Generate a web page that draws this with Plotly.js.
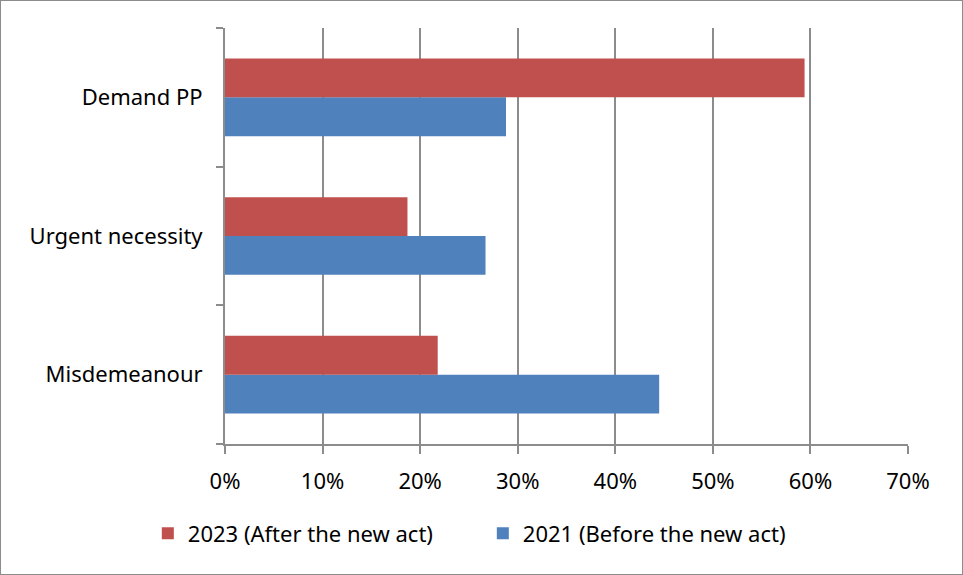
<!DOCTYPE html>
<html>
<head>
<meta charset="utf-8">
<script src="https://cdn.plot.ly/plotly-3.0.1.min.js"></script>
<style>
html,body{margin:0;padding:0;background:#fff;}
#wrap{width:961px;height:573px;border:1px solid #8c8c8c;overflow:hidden;}
#chart{width:961px;height:573px;}
</style>
</head>
<body>
<div id="wrap"><div id="chart"></div></div>
<script>
const categories = ['Misdemeanour', 'Urgent necessity', 'Demand PP'];
const values2021 = [0.445, 0.267, 0.288];
const values2023 = [0.218, 0.187, 0.594];
const seriesNames = ['2021 (Before the new act)', '2023 (After the new act)'];
const xTicks = [0, 0.1, 0.2, 0.3, 0.4, 0.5, 0.6, 0.7];

const fontFam = 'Noto Sans, Open Sans, sans-serif';

const traces = [
  {type: 'bar', orientation: 'h', name: seriesNames[0], y: categories, x: values2021,
   marker: {color: '#4F81BD'}, hoverinfo: 'x+y'},
  {type: 'bar', orientation: 'h', name: seriesNames[1], y: categories, x: values2023,
   marker: {color: '#C0504D'}, hoverinfo: 'x+y'}
];

const layout = {
  width: 961, height: 573,
  margin: {l: 224, r: 54, t: 27, b: 130},
  paper_bgcolor: '#ffffff', plot_bgcolor: '#ffffff',
  font: {family: fontFam, size: 22, color: '#000'},
  barmode: 'group',
  bargap: 0.44,
  bargroupgap: 0,
  showlegend: true,
  legend: {orientation: 'h', traceorder: 'reversed', x: -0.113, xanchor: 'left',
           y: -0.215, yanchor: 'middle', font: {size: 22, family: fontFam},
           itemwidth: 30, itemsizing: 'constant', entrywidth: 290},
  xaxis: {
    range: [0, 0.7], tickvals: xTicks, tickformat: '.0%',
    showgrid: true, gridcolor: '#8c8c8c', gridwidth: 2,
    showline: true, linecolor: '#8c8c8c', linewidth: 2,
    ticks: 'outside', ticklen: 8, tickcolor: '#8c8c8c', tickwidth: 2,
    zeroline: false, ticklabelstandoff: 9, fixedrange: true
  },
  yaxis: {
    type: 'category', categoryorder: 'array', categoryarray: categories,
    showgrid: false, showline: true, linecolor: '#8c8c8c', linewidth: 2,
    ticks: 'outside', ticklen: 7, tickcolor: '#8c8c8c', tickwidth: 2,
    tickson: 'boundaries', ticklabelstandoff: 16, zeroline: false, fixedrange: true
  }
};

Plotly.newPlot('chart', traces, layout, {displayModeBar: false, staticPlot: true});
</script>
</body>
</html>
